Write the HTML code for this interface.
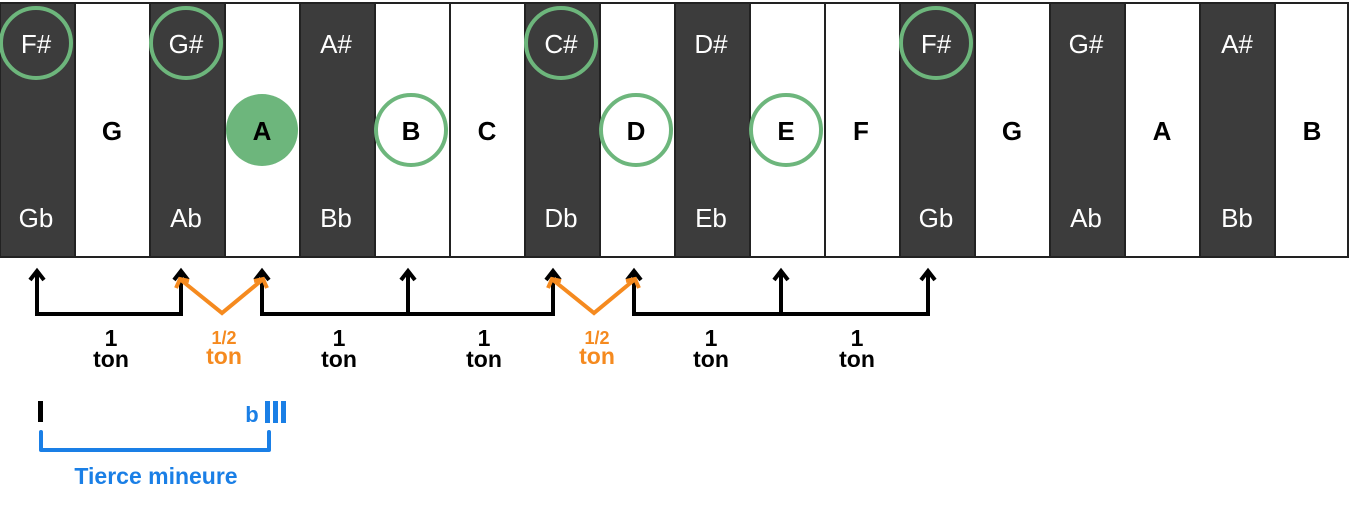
<!DOCTYPE html>
<html><head><style>
body{margin:0;background:#fff;width:1360px;height:502px;overflow:hidden}
text{font-family:"Liberation Sans",sans-serif}
</style></head><body>
<svg width="1360" height="502" xmlns="http://www.w3.org/2000/svg">
<g stroke="#222" stroke-width="2">
<rect x="0" y="3" width="75" height="254" fill="#3c3c3c"/>
<rect x="75" y="3" width="75" height="254" fill="#fff"/>
<rect x="150" y="3" width="75" height="254" fill="#3c3c3c"/>
<rect x="225" y="3" width="75" height="254" fill="#fff"/>
<rect x="300" y="3" width="75" height="254" fill="#3c3c3c"/>
<rect x="375" y="3" width="75" height="254" fill="#fff"/>
<rect x="450" y="3" width="75" height="254" fill="#fff"/>
<rect x="525" y="3" width="75" height="254" fill="#3c3c3c"/>
<rect x="600" y="3" width="75" height="254" fill="#fff"/>
<rect x="675" y="3" width="75" height="254" fill="#3c3c3c"/>
<rect x="750" y="3" width="75" height="254" fill="#fff"/>
<rect x="825" y="3" width="75" height="254" fill="#fff"/>
<rect x="900" y="3" width="75" height="254" fill="#3c3c3c"/>
<rect x="975" y="3" width="75" height="254" fill="#fff"/>
<rect x="1050" y="3" width="75" height="254" fill="#3c3c3c"/>
<rect x="1125" y="3" width="75" height="254" fill="#fff"/>
<rect x="1200" y="3" width="75" height="254" fill="#3c3c3c"/>
<rect x="1275" y="3" width="73" height="254" fill="#fff"/>
</g>
<circle cx="262" cy="130" r="36" fill="#6db67c"/>
<g fill="none" stroke="#6db67c" stroke-width="4">
<circle cx="36" cy="43" r="35"/><circle cx="186" cy="43" r="35"/>
<circle cx="561" cy="43" r="35"/><circle cx="936" cy="43" r="35"/>
<circle cx="411" cy="130" r="35"/><circle cx="636" cy="130" r="35"/><circle cx="786" cy="130" r="35"/>
</g>
<g font-size="26" text-anchor="middle" fill="#fff">
<text x="36" y="53">F#</text><text x="186" y="53">G#</text><text x="336" y="53">A#</text>
<text x="561" y="53">C#</text><text x="711" y="53">D#</text><text x="936" y="53">F#</text>
<text x="1086" y="53">G#</text><text x="1237" y="53">A#</text>
<text x="36" y="227">Gb</text><text x="186" y="227">Ab</text><text x="336" y="227">Bb</text>
<text x="561" y="227">Db</text><text x="711" y="227">Eb</text><text x="936" y="227">Gb</text>
<text x="1086" y="227">Ab</text><text x="1237" y="227">Bb</text>
</g>
<g font-size="26" font-weight="bold" text-anchor="middle" fill="#000">
<text x="112" y="140">G</text><text x="262" y="140">A</text><text x="411" y="140">B</text>
<text x="487" y="140">C</text><text x="636" y="140">D</text><text x="786" y="140">E</text>
<text x="861" y="140">F</text><text x="1012" y="140">G</text><text x="1162" y="140">A</text>
<text x="1312" y="140">B</text>
</g>
<g fill="none" stroke="#000" stroke-width="4">
<path d="M37 272V314H181V272M262 272V314H553V272M634 272V314H928V272M408 272V314M781 272V314"/>
<path d="M30 280L37 271L44 280M174 280L181 271L188 280M255 280L262 271L269 280M401 280L408 271L415 280M546 280L553 271L560 280M627 280L634 271L641 280M774 280L781 271L788 280M921 280L928 271L935 280"/>
</g>
<g fill="none" stroke="#f58a1f" stroke-width="4">
<path d="M181 280L222 313L262 280M553 280L594 313L634 280"/>
<path d="M176 288L180 279L189 281M267 288L263 279L254 281M548 288L552 279L561 281M639 288L635 279L626 281"/>
</g>
<g font-size="23" font-weight="bold" text-anchor="middle" fill="#000">
<text x="111" y="346">1</text><text x="111" y="367">ton</text>
<text x="339" y="346">1</text><text x="339" y="367">ton</text>
<text x="484" y="346">1</text><text x="484" y="367">ton</text>
<text x="711" y="346">1</text><text x="711" y="367">ton</text>
<text x="857" y="346">1</text><text x="857" y="367">ton</text>
</g>
<g font-weight="bold" text-anchor="middle" fill="#f58a1f">
<text x="224" y="344" font-size="18">1/2</text><text x="224" y="364" font-size="23">ton</text>
<text x="597" y="344" font-size="18">1/2</text><text x="597" y="364" font-size="23">ton</text>
</g>
<rect x="38" y="401" width="5" height="21" fill="#000"/>
<text x="252" y="422" font-size="22" font-weight="bold" fill="#1a7fe6" text-anchor="middle">b</text>
<rect x="265" y="401" width="5" height="22" fill="#1a7fe6"/>
<rect x="273" y="401" width="5" height="22" fill="#1a7fe6"/>
<rect x="281" y="401" width="5" height="22" fill="#1a7fe6"/>
<path d="M41 432V450H269V432" fill="none" stroke="#1a7fe6" stroke-width="4" stroke-linecap="round" stroke-linejoin="round"/>
<text x="156" y="484" font-size="23" font-weight="bold" fill="#1a7fe6" text-anchor="middle">Tierce mineure</text>
</svg>
</body></html>
